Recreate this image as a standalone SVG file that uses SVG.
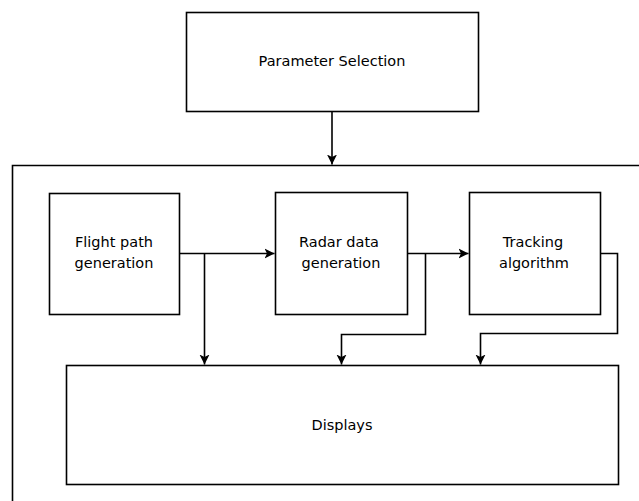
<svg xmlns="http://www.w3.org/2000/svg" width="639" height="501" viewBox="0 0 639 501">
<style>
.box{fill:#fff;stroke:#000;stroke-width:1.6}
.ln{fill:none;stroke:#000;stroke-width:1.6}
text{font-family:"DejaVu Sans",sans-serif;font-size:14.5px;fill:#000;text-anchor:middle}
</style>
<defs>
<marker id="ah" markerWidth="12" markerHeight="12" refX="10" refY="5.5" orient="auto" markerUnits="userSpaceOnUse">
<path d="M0,0.5 L10,5.5 L0,10.5 L2.5,5.5 Z" fill="#000"/>
</marker>
</defs>
<rect width="639" height="501" fill="#fff"/>
<g id="container"><path class="ln" d="M639,165.5 H12.5 V501"/></g>
<g id="param"><rect class="box" x="186.5" y="12.5" width="292" height="99"/><text x="332" y="66">Parameter Selection</text></g>
<g id="flight"><rect class="box" x="49.5" y="193.5" width="130" height="121"/><text x="114" y="247">Flight path</text><text x="114" y="268">generation</text></g>
<g id="radar"><rect class="box" x="275.5" y="192.5" width="132" height="122"/><text x="339" y="247">Radar data</text><text x="341" y="268">generation</text></g>
<g id="tracking"><rect class="box" x="469.5" y="192.5" width="131" height="122"/><text x="533" y="247">Tracking</text><text x="534" y="268">algorithm</text></g>
<g id="displays"><rect class="box" x="66.5" y="365.5" width="552" height="119"/><text x="342" y="430">Displays</text></g>
<g id="connectors">
<path class="ln" d="M332,111.5 V164.5" marker-end="url(#ah)"/>
<path class="ln" d="M179.5,253.5 H274.5" marker-end="url(#ah)"/>
<path class="ln" d="M204.5,253.5 V364.5" marker-end="url(#ah)"/>
<path class="ln" d="M407.5,253.5 H468.5" marker-end="url(#ah)"/>
<path class="ln" d="M425.5,253.5 V334.5 H341.5 V364.5" marker-end="url(#ah)"/>
<path class="ln" d="M600.5,253.5 H617.5 V333.5 H480.5 V364.5" marker-end="url(#ah)"/>
</g>
</svg>
